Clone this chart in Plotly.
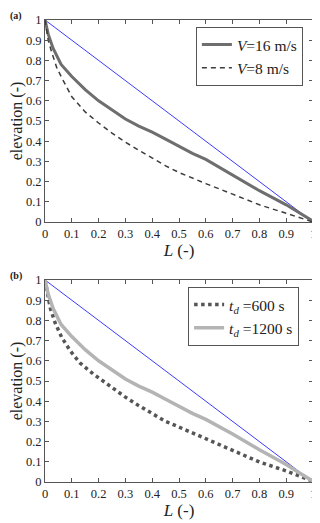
import plotly.graph_objects as go
from plotly.subplots import make_subplots

# -------------------------------------------------
# Data
# -------------------------------------------------

ref_L = [0, 1]
ref_elev = [1, 0]

v16_L = [0, 0.012, 0.03, 0.06, 0.1, 0.15, 0.2, 0.25, 0.3, 0.35, 0.4, 0.45, 0.5, 0.55, 0.6, 0.65, 0.7, 0.8, 0.9, 0.95, 1.0]
v16_elev = [1, 0.93, 0.86, 0.78, 0.72, 0.655, 0.6, 0.555, 0.51, 0.475, 0.445, 0.41, 0.375, 0.34, 0.31, 0.272, 0.235, 0.155, 0.085, 0.044, 0.004]

v8_L = [0, 0.012, 0.025, 0.045, 0.07, 0.1, 0.15, 0.2, 0.25, 0.3, 0.35, 0.4, 0.45, 0.5, 0.55, 0.6, 0.7, 0.8, 0.9, 0.95, 1.0]
v8_elev = [1, 0.9, 0.84, 0.76, 0.695, 0.62, 0.545, 0.49, 0.44, 0.395, 0.355, 0.315, 0.278, 0.245, 0.216, 0.19, 0.138, 0.085, 0.043, 0.022, 0.0]

td600_L = [0, 0.01, 0.02, 0.037, 0.062, 0.094, 0.13, 0.18, 0.23, 0.28, 0.3, 0.35, 0.4, 0.45, 0.5, 0.55, 0.6, 0.7, 0.8, 0.9, 0.95, 1.0]
td600_elev = [1, 0.93, 0.86, 0.79, 0.717, 0.65, 0.59, 0.535, 0.485, 0.44, 0.42, 0.378, 0.34, 0.30, 0.272, 0.243, 0.215, 0.155, 0.099, 0.055, 0.028, 0.004]

td1200_L = [0, 0.012, 0.03, 0.06, 0.1, 0.15, 0.2, 0.25, 0.3, 0.35, 0.4, 0.45, 0.5, 0.55, 0.6, 0.65, 0.7, 0.8, 0.9, 0.95, 1.0]
td1200_elev = [1, 0.93, 0.86, 0.78, 0.72, 0.655, 0.6, 0.555, 0.51, 0.475, 0.445, 0.41, 0.375, 0.34, 0.31, 0.275, 0.238, 0.16, 0.087, 0.045, 0.004]

SERIF = "Liberation Serif, serif"

# -------------------------------------------------
# Figure
# (page body has an 8px margin, so the figure is 8px smaller
#  and the margins are reduced by 8px on the left/top)
# -------------------------------------------------

fig = make_subplots(rows=2, cols=1, vertical_spacing=0.1256)

fig.add_trace(go.Scatter(x=ref_L, y=ref_elev, mode="lines",
                         line=dict(color="#3b3bff", width=1), showlegend=False), row=1, col=1)
fig.add_trace(go.Scatter(x=v16_L, y=v16_elev, mode="lines", name="<i>V</i>=16 m/s",
                         line=dict(color="#6e6e6e", width=3), legend="legend"), row=1, col=1)
fig.add_trace(go.Scatter(x=v8_L, y=v8_elev, mode="lines", name="<i>V</i>=8 m/s",
                         line=dict(color="#3c3c3c", width=1.5, dash="5px,4px"), legend="legend"), row=1, col=1)

fig.add_trace(go.Scatter(x=ref_L, y=ref_elev, mode="lines",
                         line=dict(color="#3b3bff", width=1), showlegend=False), row=2, col=1)
fig.add_trace(go.Scatter(x=td600_L, y=td600_elev, mode="lines", name="<i>t</i><sub><i>d</i></sub> =600 s",
                         line=dict(color="#555555", width=3.5, dash="dot"), legend="legend2"), row=2, col=1)
fig.add_trace(go.Scatter(x=td1200_L, y=td1200_elev, mode="lines", name="<i>t</i><sub><i>d</i></sub> =1200 s",
                         line=dict(color="#b4b4b4", width=3.5), legend="legend2"), row=2, col=1)

axis_style = dict(
    range=[0, 1], dtick=0.1, ticks="inside", ticklen=4, tickcolor="#555",
    showline=True, linecolor="#555", linewidth=1, mirror="allticks",
    showgrid=False, zeroline=False, automargin=False,
    tickfont=dict(family=SERIF, size=12.5, color="#222"),
)

for r in (1, 2):
    fig.update_xaxes(axis_style, row=r, col=1,
                     title=dict(text="<i>L</i> (-)", font=dict(family=SERIF, size=17, color="#222"), standoff=0))
    fig.update_yaxes(axis_style, row=r, col=1,
                     title=dict(text="elevation (-)", font=dict(family=SERIF, size=16, color="#222"), standoff=0))

legend_style = dict(
    bgcolor="white", bordercolor="#555", borderwidth=1,
    font=dict(family=SERIF, size=15.5, color="#222"),
    xanchor="left", yanchor="top", tracegroupgap=0, itemwidth=30,
)

fig.update_layout(
    width=312, height=515,
    font=dict(family=SERIF, color="#222"),
    margin=dict(l=37, r=7, t=12, b=41),
    plot_bgcolor="white", paper_bgcolor="white",
    legend=dict(legend_style, x=0.563, y=0.985),
    legend2=dict(legend_style, x=0.534, y=0.422),
    annotations=[
        dict(text="<b>(a)</b>", xref="paper", yref="paper", x=-0.138, y=1.026,
             xanchor="left", yanchor="top", showarrow=False,
             font=dict(family=SERIF, size=10, color="#222")),
        dict(text="<b>(b)</b>", xref="paper", yref="paper", x=-0.138, y=0.463,
             xanchor="left", yanchor="top", showarrow=False,
             font=dict(family=SERIF, size=10, color="#222")),
    ],
)

fig.write_html("out.html")
